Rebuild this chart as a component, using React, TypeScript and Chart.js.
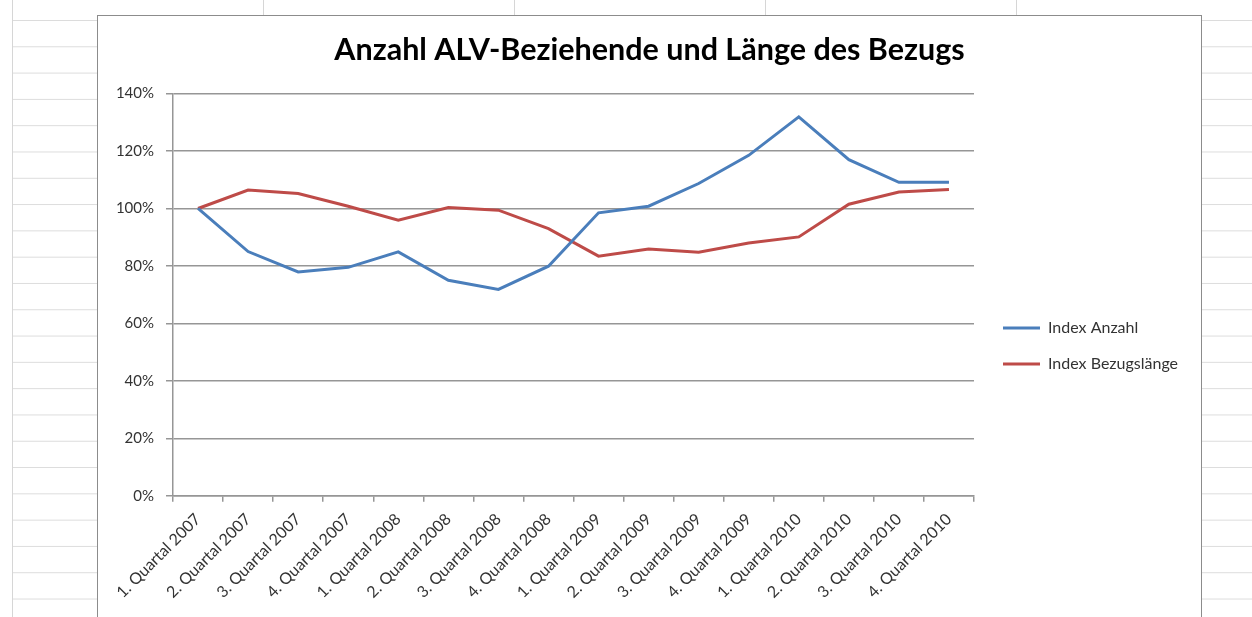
import { useEffect, useRef } from "react";
import { Chart, registerables } from "chart.js";

Chart.register(...registerables);

const categories = [
  "1. Quartal 2007", "2. Quartal 2007", "3. Quartal 2007", "4. Quartal 2007",
  "1. Quartal 2008", "2. Quartal 2008", "3. Quartal 2008", "4. Quartal 2008",
  "1. Quartal 2009", "2. Quartal 2009", "3. Quartal 2009", "4. Quartal 2009",
  "1. Quartal 2010", "2. Quartal 2010", "3. Quartal 2010", "4. Quartal 2010",
];

const indexAnzahl = [100, 85, 77.9, 79.5, 84.9, 75.0, 71.8, 79.9, 98.5, 100.8, 108.7, 118.5, 131.9, 117.0, 109.1, 109.1];
const indexBezugslaenge = [100, 106.4, 105.2, 100.8, 95.9, 100.3, 99.4, 93.0, 83.4, 85.9, 84.8, 88.0, 90.1, 101.5, 105.7, 106.6];

const seriesLabels = ["Index Anzahl", "Index Bezugslänge"];
const seriesColors = ["#4a7ebb", "#be4b48"];

const yMin = 0;
const yMax = 140;
const yStep = 20;

const titleText = "Anzahl ALV-Beziehende und Länge des Bezugs";

const FONT = "Lato, 'Open Sans', sans-serif";
const GRID = "#969696";
const TEXT = "#333333";

const boxShift = {
  id: "boxShift",
  afterLayout(chart: any) {
    const l = chart.legend;
    if (l) {
      l.left += 9;
      l.right += 9;
    }
    const t = chart.titleBlock;
    if (t) {
      t.right = chart.width;
    }
  },
};

export default function App() {
  const canvasRef = useRef<HTMLCanvasElement | null>(null);

  useEffect(() => {
    const canvas = canvasRef.current;
    if (!canvas) return;
    const defaultGen = (Chart.defaults.plugins.legend.labels as any).generateLabels;
    const chart = new Chart(canvas, {
      type: "line",
      data: {
        labels: categories,
        datasets: [
          {
            label: seriesLabels[0],
            data: indexAnzahl,
            borderColor: seriesColors[0],
            backgroundColor: seriesColors[0],
            borderWidth: 3,
            pointRadius: 0,
            tension: 0,
          },
          {
            label: seriesLabels[1],
            data: indexBezugslaenge,
            borderColor: seriesColors[1],
            backgroundColor: seriesColors[1],
            borderWidth: 3,
            pointRadius: 0,
            tension: 0,
          },
        ],
      },
      plugins: [boxShift],
      options: {
        responsive: false,
        animation: false,
        layout: { padding: { left: 0, top: 0, bottom: 0, right: 31 } },
        plugins: {
          title: {
            display: true,
            text: titleText,
            color: "#000000",
            font: { family: FONT, size: 30.5, weight: "bold" },
            padding: { top: 16, bottom: 25 },
          },
          legend: {
            position: "right",
            align: "center",
            maxWidth: 196,
            labels: {
              usePointStyle: false,
              boxWidth: 37,
              boxHeight: 3,
              padding: 20,
              color: TEXT,
              font: { family: FONT, size: 16 },
              generateLabels: (c: any) =>
                defaultGen(c).map((it: any) => ({ ...it, lineWidth: 0 })),
            },
          },
          tooltip: { enabled: false },
        },
        scales: {
          x: {
            type: "category",
            offset: true,
            grid: {
              display: true,
              drawOnChartArea: false,
              drawTicks: true,
              tickLength: 6,
              offset: true,
              color: GRID,
              lineWidth: 1.5,
            },
            border: { display: true, color: GRID, width: 1.5 },
            ticks: {
              autoSkip: false,
              minRotation: 45,
              maxRotation: 45,
              padding: 8,
              color: TEXT,
              font: { family: FONT, size: 16 },
            },
            afterFit: (s: any) => {
              s.height = 180.3;
            },
          },
          y: {
            min: yMin,
            max: yMax,
            grid: {
              color: GRID,
              lineWidth: 1.5,
              tickLength: 7,
              drawTicks: true,
            },
            border: { display: true, color: GRID, width: 1.5 },
            ticks: {
              stepSize: yStep,
              padding: 12,
              color: TEXT,
              font: { family: FONT, size: 15 },
              callback: (v: any) => `${v}%`,
            },
            afterFit: (s: any) => {
              s.width = 75;
            },
          },
        },
      },
    } as any);
    return () => chart.destroy();
  }, []);

  return (
    <div
      style={{
        position: "fixed",
        left: 0,
        top: 0,
        width: 1252,
        height: 617,
        overflow: "hidden",
        background: "#ffffff",
      }}
    >
      <div
        style={{
          position: "absolute",
          left: 12,
          top: 0,
          width: 1240,
          height: 617,
          backgroundImage:
            "linear-gradient(to right, #d6d6d6 1px, transparent 1px), linear-gradient(to bottom, #dcdcdc 1px, transparent 1px)",
          backgroundSize: "251px 100%, 100% 26.3px",
          backgroundPosition: "0 0, 0 20px",
        }}
      />
      <div
        style={{
          position: "absolute",
          left: 97,
          top: 15,
          width: 1103,
          height: 660,
          border: "1px solid #8c8c8c",
          background: "#ffffff",
        }}
      >
        <canvas ref={canvasRef} width={1103} height={660} style={{ display: "block" }} />
      </div>
    </div>
  );
}
